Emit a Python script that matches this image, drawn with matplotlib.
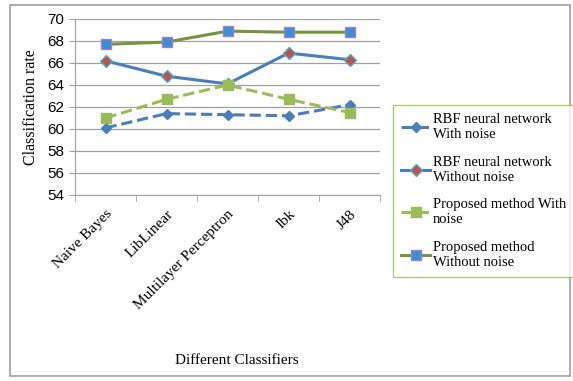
import matplotlib.pyplot as plt
from matplotlib.patches import Rectangle
import numpy as np

classifiers = ["Naive Bayes", "LibLinear", "Multilayer Perceptron", "Ibk", "J48"]
rbf_noise = [60.1, 61.4, 61.3, 61.2, 62.2]
rbf_clean = [66.2, 64.8, 64.1, 66.9, 66.3]
prop_noise = [61.0, 62.7, 64.0, 62.7, 61.5]
prop_clean = [67.7, 67.9, 68.9, 68.8, 68.8]
labels = ["RBF neural network\nWith noise", "RBF neural network\nWithout noise",
          "Proposed method With\nnoise", "Proposed method\nWithout noise"]

serif = ["Liberation Serif", "DejaVu Serif"]

fig = plt.figure(figsize=(5.73, 3.81), dpi=100)
fig.patches.append(Rectangle((10 / 573, 5 / 381), 560 / 573, 371 / 381, transform=fig.transFigure,
                             fill=False, edgecolor="#a0a0a0", linewidth=1.2))
ax = fig.add_axes([75 / 573, 1 - 195 / 381, 305 / 573, 176 / 381])

x = np.arange(len(classifiers))
h1, = ax.plot(x, rbf_noise, "--", color="#4a7ebb", lw=2.2, marker="D", ms=5.5,
              mfc="#4a7ebb", mec="#4a7ebb")
h2, = ax.plot(x, rbf_clean, "-", color="#4a7ebb", lw=2.2, marker="D", ms=6,
              mfc="#c0504d", mec="#4bacc6")
h3, = ax.plot(x, prop_noise, "--", color="#9bbb59", lw=2.2, marker="s", ms=7,
              mfc="#9bbb59", mec="#9bbb59")
h4, = ax.plot(x, prop_clean, "-", color="#77933c", lw=2.2, marker="s", ms=7,
              mfc="#3a8fd9", mec="#a080c0")

ax.set_xlim(-0.5, 4.5)
ax.set_ylim(54, 70)
ax.set_yticks(range(54, 71, 2))
ax.yaxis.grid(True, color="#a0a0a0", lw=0.9)
ax.set_axisbelow(True)
ax.set_xticks(x)
ax.set_xticklabels(classifiers, rotation=45, ha="right", rotation_mode="anchor",
                   family=serif, fontsize=11)
ax.set_xticks(np.arange(-0.5, 5, 1), minor=True)
ax.tick_params(axis="x", which="major", length=0, pad=9)
ax.tick_params(axis="x", which="minor", length=4, color="#a0a0a0")
ax.tick_params(axis="y", length=4, color="#a0a0a0", labelsize=11)
for s in ["top", "right"]:
    ax.spines[s].set_visible(False)
for s in ["left", "bottom"]:
    ax.spines[s].set_color("#a0a0a0")
for t in ax.get_yticklabels():
    t.set_family(["Liberation Sans", "DejaVu Sans"])

ax.set_ylabel("Classification rate", family=serif, fontsize=11.5, labelpad=6)
fig.text(237 / 573, 1 - 360 / 381, "Different Classifiers", family=serif, fontsize=11,
         ha="center", va="center")

leg = fig.legend([h1, h2, h3, h4], labels, loc="upper left",
                 bbox_to_anchor=(393 / 573, 1 - 105 / 381), prop={"family": serif, "size": 10.5},
                 frameon=True, fancybox=False, edgecolor="#9bbb59", handlelength=2.0,
                 labelspacing=1.0, borderpad=0.55, handletextpad=0.2, borderaxespad=0)
leg.get_frame().set_linewidth(1.0)

fig.savefig("out.png", dpi=100)
